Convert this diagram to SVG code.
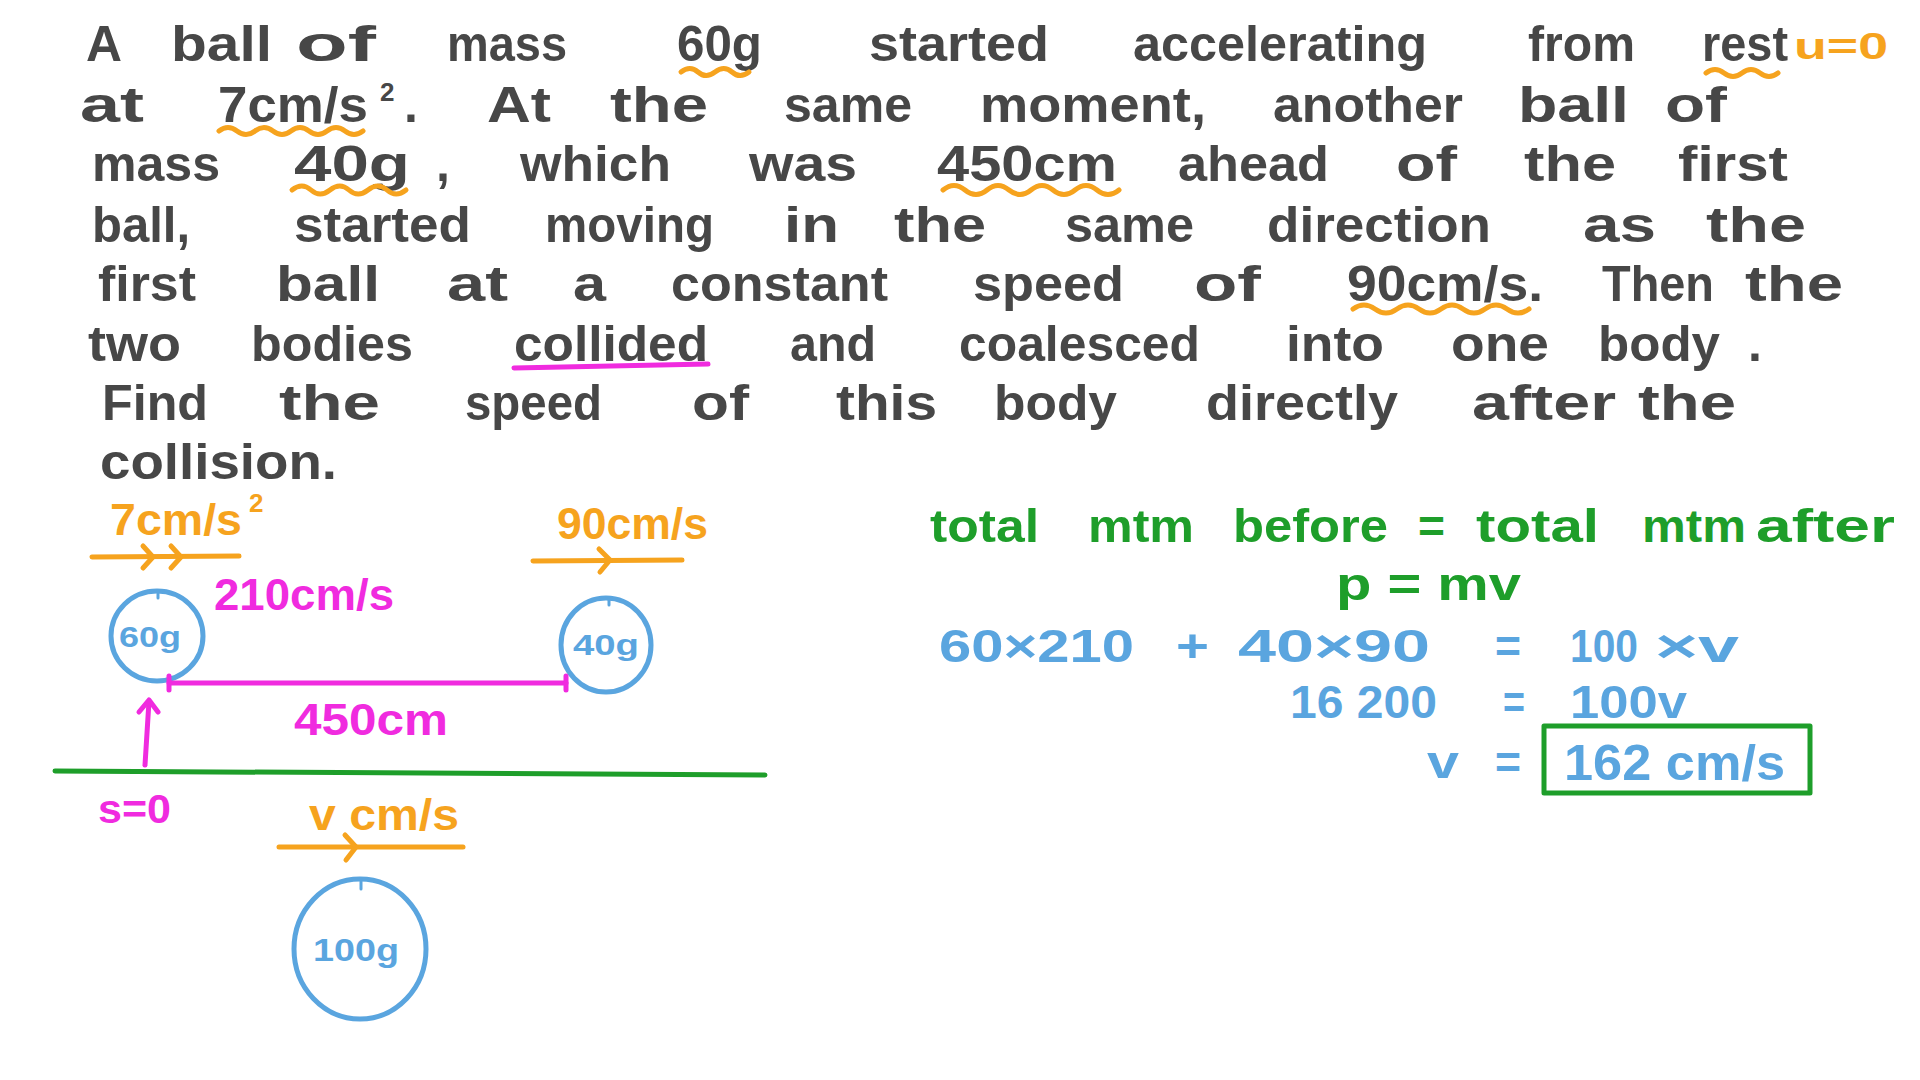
<svg xmlns="http://www.w3.org/2000/svg" width="1920" height="1080" viewBox="0 0 1920 1080">
<style>
text{font-family:"Liberation Sans","DejaVu Sans",sans-serif;font-weight:bold;}
.t{fill:#474747;font-size:50px;}
.o{fill:#F6A31E;}
.m{fill:#F02BDF;}
.b{fill:#5AA5DF;}
.g{fill:#1E9E2A;}
.ls{stroke-linecap:round;stroke-linejoin:round;fill:none;stroke-width:5;}
.so{stroke:#F6A31E;}
.sm{stroke:#F02BDF;}
.sb{stroke:#5AA5DF;}
.sg{stroke:#1E9E2A;}
</style>
<rect width="1920" height="1080" fill="#ffffff"/>
<g id="problem-text" class="t">
<text x="86" y="61" textLength="36" lengthAdjust="spacingAndGlyphs">A</text>
<text x="171" y="61" textLength="101" lengthAdjust="spacingAndGlyphs">ball</text>
<text x="296" y="61" textLength="80" lengthAdjust="spacingAndGlyphs">of</text>
<text x="447" y="61" textLength="120" lengthAdjust="spacingAndGlyphs">mass</text>
<text x="677" y="61" textLength="85" lengthAdjust="spacingAndGlyphs">60g</text>
<text x="869" y="61" textLength="180" lengthAdjust="spacingAndGlyphs">started</text>
<text x="1133" y="61" textLength="294" lengthAdjust="spacingAndGlyphs">accelerating</text>
<text x="1528" y="61" textLength="107" lengthAdjust="spacingAndGlyphs">from</text>
<text x="1702" y="61" textLength="86" lengthAdjust="spacingAndGlyphs">rest</text>
<text x="1794" y="59" textLength="94" lengthAdjust="spacingAndGlyphs" class="o" style="font-size:36px">u=0</text>

<text x="80" y="122" textLength="64" lengthAdjust="spacingAndGlyphs">at</text>
<text x="218" y="122" textLength="150" lengthAdjust="spacingAndGlyphs">7cm/s</text>
<text x="380" y="101" style="font-size:26px">2</text>
<text x="404" y="122">.</text>
<text x="487" y="122" textLength="64" lengthAdjust="spacingAndGlyphs">At</text>
<text x="610" y="122" textLength="98" lengthAdjust="spacingAndGlyphs">the</text>
<text x="784" y="122" textLength="128" lengthAdjust="spacingAndGlyphs">same</text>
<text x="980" y="122" textLength="226" lengthAdjust="spacingAndGlyphs">moment,</text>
<text x="1273" y="122" textLength="190" lengthAdjust="spacingAndGlyphs">another</text>
<text x="1518" y="122" textLength="111" lengthAdjust="spacingAndGlyphs">ball</text>
<text x="1665" y="122" textLength="62" lengthAdjust="spacingAndGlyphs">of</text>

<text x="92" y="181" textLength="128" lengthAdjust="spacingAndGlyphs">mass</text>
<text x="294" y="181" textLength="116" lengthAdjust="spacingAndGlyphs">40g</text>
<text x="436" y="181">,</text>
<text x="520" y="181" textLength="151" lengthAdjust="spacingAndGlyphs">which</text>
<text x="749" y="181" textLength="108" lengthAdjust="spacingAndGlyphs">was</text>
<text x="937" y="181" textLength="180" lengthAdjust="spacingAndGlyphs">450cm</text>
<text x="1178" y="181" textLength="151" lengthAdjust="spacingAndGlyphs">ahead</text>
<text x="1396" y="181" textLength="61" lengthAdjust="spacingAndGlyphs">of</text>
<text x="1524" y="181" textLength="92" lengthAdjust="spacingAndGlyphs">the</text>
<text x="1678" y="181" textLength="110" lengthAdjust="spacingAndGlyphs">first</text>

<text x="92" y="242" textLength="98" lengthAdjust="spacingAndGlyphs">ball,</text>
<text x="294" y="242" textLength="177" lengthAdjust="spacingAndGlyphs">started</text>
<text x="545" y="242" textLength="169" lengthAdjust="spacingAndGlyphs">moving</text>
<text x="784" y="242" textLength="55" lengthAdjust="spacingAndGlyphs">in</text>
<text x="894" y="242" textLength="92" lengthAdjust="spacingAndGlyphs">the</text>
<text x="1065" y="242" textLength="129" lengthAdjust="spacingAndGlyphs">same</text>
<text x="1267" y="242" textLength="224" lengthAdjust="spacingAndGlyphs">direction</text>
<text x="1583" y="242" textLength="73" lengthAdjust="spacingAndGlyphs">as</text>
<text x="1706" y="242" textLength="100" lengthAdjust="spacingAndGlyphs">the</text>

<text x="98" y="301" textLength="98" lengthAdjust="spacingAndGlyphs">first</text>
<text x="276" y="301" textLength="104" lengthAdjust="spacingAndGlyphs">ball</text>
<text x="447" y="301" textLength="61" lengthAdjust="spacingAndGlyphs">at</text>
<text x="573" y="301" textLength="33" lengthAdjust="spacingAndGlyphs">a</text>
<text x="671" y="301" textLength="217" lengthAdjust="spacingAndGlyphs">constant</text>
<text x="973" y="301" textLength="151" lengthAdjust="spacingAndGlyphs">speed</text>
<text x="1194" y="301" textLength="67" lengthAdjust="spacingAndGlyphs">of</text>
<text x="1347" y="301" textLength="196" lengthAdjust="spacingAndGlyphs">90cm/s.</text>
<text x="1602" y="301" textLength="112" lengthAdjust="spacingAndGlyphs">Then</text>
<text x="1745" y="301" textLength="98" lengthAdjust="spacingAndGlyphs">the</text>

<text x="88" y="361" textLength="93" lengthAdjust="spacingAndGlyphs">two</text>
<text x="251" y="361" textLength="162" lengthAdjust="spacingAndGlyphs">bodies</text>
<text x="514" y="361" textLength="194" lengthAdjust="spacingAndGlyphs">collided</text>
<text x="790" y="361" textLength="86" lengthAdjust="spacingAndGlyphs">and</text>
<text x="959" y="361" textLength="241" lengthAdjust="spacingAndGlyphs">coalesced</text>
<text x="1286" y="361" textLength="98" lengthAdjust="spacingAndGlyphs">into</text>
<text x="1451" y="361" textLength="98" lengthAdjust="spacingAndGlyphs">one</text>
<text x="1598" y="361" textLength="122" lengthAdjust="spacingAndGlyphs">body</text>
<text x="1748" y="361">.</text>

<text x="102" y="420" textLength="106" lengthAdjust="spacingAndGlyphs">Find</text>
<text x="279" y="420" textLength="101" lengthAdjust="spacingAndGlyphs">the</text>
<text x="465" y="420" textLength="137" lengthAdjust="spacingAndGlyphs">speed</text>
<text x="692" y="420" textLength="57" lengthAdjust="spacingAndGlyphs">of</text>
<text x="836" y="420" textLength="101" lengthAdjust="spacingAndGlyphs">this</text>
<text x="994" y="420" textLength="123" lengthAdjust="spacingAndGlyphs">body</text>
<text x="1206" y="420" textLength="192" lengthAdjust="spacingAndGlyphs">directly</text>
<text x="1472" y="420" textLength="144" lengthAdjust="spacingAndGlyphs">after</text>
<text x="1638" y="420" textLength="98" lengthAdjust="spacingAndGlyphs">the</text>

<text x="100" y="479" textLength="237" lengthAdjust="spacingAndGlyphs">collision.</text>
</g>

<g id="underlines" class="ls">
<path class="so" d="M681,72 q9,-7 17,0 t17,0 t17,0 t17,0"/>
<path class="so" d="M1706,73 q9,-7 18,0 t18,0 t18,0 t18,0"/>
<path class="so" d="M219,131 q9,-7 18,0 t18,0 t18,0 t18,0 t18,0 t18,0 t18,0 t18,0"/>
<path class="so" d="M292,190 q10,-8 19,0 t19,0 t19,0 t19,0 t19,0 t19,0"/>
<path class="so" d="M943,190 q11,-9 22,0 t22,0 t22,0 t22,0 t22,0 t22,0 t22,0 t22,0"/>
<path class="so" d="M1353,309 q11,-8 22,0 t22,0 t22,0 t22,0 t22,0 t22,0 t22,0 t22,0"/>
<path class="sm" d="M514,368 L708,364"/>
</g>

<g id="diagram-before">
<g id="label-7cms2">
<text x="110" y="535" class="o" style="font-size:44px" textLength="132" lengthAdjust="spacingAndGlyphs">7cm/s</text>
<text x="249" y="512" class="o" style="font-size:26px">2</text>
</g>
<g id="label-90cms">
<text x="557" y="539" class="o" style="font-size:44px" textLength="151" lengthAdjust="spacingAndGlyphs">90cm/s</text>
</g>
<g id="label-210cms">
<text x="214" y="610" class="m" style="font-size:44px" textLength="180" lengthAdjust="spacingAndGlyphs">210cm/s</text>
</g>
<g id="ball-60g">
<ellipse cx="157" cy="636" rx="46" ry="45" class="ls sb"/>
<path d="M158,591 v7" class="ls sb" style="stroke-width:3"/>
<text x="119" y="647" class="b" style="font-size:30px" textLength="62" lengthAdjust="spacingAndGlyphs">60g</text>
</g>
<g id="ball-40g">
<ellipse cx="606" cy="645" rx="45" ry="47" class="ls sb"/>
<path d="M609,598 v7" class="ls sb" style="stroke-width:3"/>
<text x="573" y="655" class="b" style="font-size:30px" textLength="66" lengthAdjust="spacingAndGlyphs">40g</text>
</g>
<g id="label-450cm">
<text x="294" y="735" class="m" style="font-size:44px" textLength="154" lengthAdjust="spacingAndGlyphs">450cm</text>
</g>
<g id="label-s0">
<text x="98" y="823" class="m" style="font-size:40px" textLength="73" lengthAdjust="spacingAndGlyphs">s=0</text>
</g>
<g id="label-vcms">
<text x="309" y="830" class="o" style="font-size:44px" textLength="150" lengthAdjust="spacingAndGlyphs">v cm/s</text>
</g>
<g id="ball-100g">
<ellipse cx="360" cy="949" rx="66" ry="70" class="ls sb"/>
<path d="M361,879 v10" class="ls sb" style="stroke-width:3"/>
<text x="313" y="961" class="b" style="font-size:32px" textLength="86" lengthAdjust="spacingAndGlyphs">100g</text>
</g>
</g>

<g id="connectors" class="ls">
<path class="so" d="M92,557 L239,556"/>
<path class="so" d="M143,546 L153,557 L143,568"/>
<path class="so" d="M171,546 L181,557 L171,568"/>
<path class="so" d="M533,561 L682,560"/>
<path class="so" d="M599,549 L610,560 L600,572"/>
<path class="sm" d="M169,683 L566,683"/>
<path class="sm" d="M169,676 L169,690"/>
<path class="sm" d="M566,676 L566,690"/>
<path class="sm" d="M145,765 L149,701"/>
<path class="sm" d="M139,712 L149,700 L158,712"/>
<path class="sg" d="M55,771 L765,775"/>
<path class="so" d="M279,847 L463,847"/>
<path class="so" d="M345,835 L356,847 L346,860"/>
</g>

<g id="working">
<g id="eq-conservation" class="g" style="font-size:46px">
<text x="930" y="542" textLength="109" lengthAdjust="spacingAndGlyphs">total</text>
<text x="1088" y="542" textLength="106" lengthAdjust="spacingAndGlyphs">mtm</text>
<text x="1233" y="542" textLength="155" lengthAdjust="spacingAndGlyphs">before</text>
<text x="1418" y="542" textLength="27" lengthAdjust="spacingAndGlyphs">=</text>
<text x="1476" y="542" textLength="123" lengthAdjust="spacingAndGlyphs">total</text>
<text x="1642" y="542" textLength="104" lengthAdjust="spacingAndGlyphs">mtm</text>
<text x="1756" y="542" textLength="139" lengthAdjust="spacingAndGlyphs">after</text>
</g>
<g id="eq-pmv" class="g" style="font-size:46px">
<text x="1336" y="600" textLength="185" lengthAdjust="spacingAndGlyphs">p = mv</text>
</g>
<g id="eq-line1" class="b" style="font-size:46px">
<text x="939" y="662" textLength="195" lengthAdjust="spacingAndGlyphs">60×210</text>
<text x="1176" y="662" textLength="33" lengthAdjust="spacingAndGlyphs">+</text>
<text x="1238" y="662" textLength="192" lengthAdjust="spacingAndGlyphs">40×90</text>
<text x="1495" y="662" textLength="26" lengthAdjust="spacingAndGlyphs">=</text>
<text x="1570" y="662" textLength="68" lengthAdjust="spacingAndGlyphs">100</text>
<text x="1655" y="662" textLength="84" lengthAdjust="spacingAndGlyphs">×v</text>
</g>
<g id="eq-line2" class="b" style="font-size:46px">
<text x="1290" y="718" textLength="147" lengthAdjust="spacingAndGlyphs">16 200</text>
<text x="1503" y="718" textLength="22" lengthAdjust="spacingAndGlyphs">=</text>
<text x="1570" y="718" textLength="117" lengthAdjust="spacingAndGlyphs">100v</text>
</g>
<g id="eq-answer">
<text x="1427" y="778" class="b" style="font-size:46px" textLength="32" lengthAdjust="spacingAndGlyphs">v</text>
<text x="1495" y="778" class="b" style="font-size:46px" textLength="26" lengthAdjust="spacingAndGlyphs">=</text>
<rect x="1544" y="726" width="266" height="67" class="ls sg"/>
<text x="1564" y="780" class="b" style="font-size:50px" textLength="221" lengthAdjust="spacingAndGlyphs">162 cm/s</text>
</g>
</g>
</svg>
